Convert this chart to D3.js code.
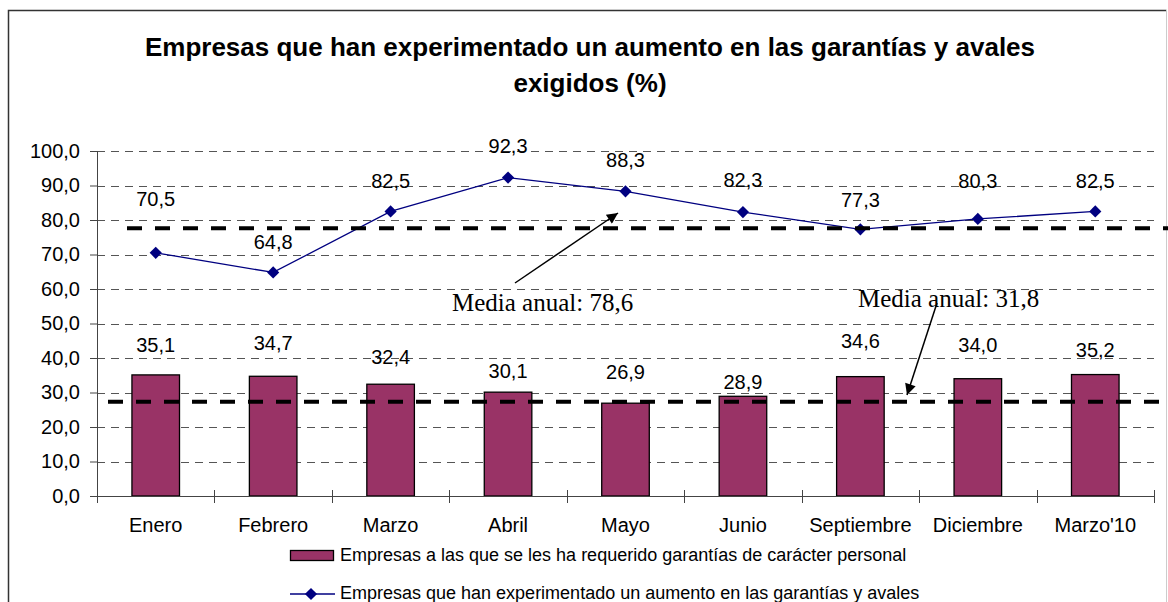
<!DOCTYPE html>
<meta charset="utf-8">
<style>
  body { margin: 0; background: #fff; }
  svg { display: block; font-family: "Liberation Sans", Arial, sans-serif; }
  .grid line { stroke: #555; stroke-dasharray: 8,6; }
  .axis path, .axis line { stroke: #444; }
  .axis text { font-size: 20px; fill: #000; }
  .lbl { font-size: 20px; }
  .note { font-family: "Liberation Serif", "Times New Roman", serif; font-size: 25px; }
  .legend text { font-size: 18px; }
</style>
<body>
<div id="chart"></div>
<script src="https://cdn.jsdelivr.net/npm/d3@7"></script>
<script>
  var months = ["Enero", "Febrero", "Marzo", "Abril", "Mayo", "Junio", "Septiembre", "Diciembre", "Marzo'10"];
  var personal = [35.1, 34.7, 32.4, 30.1, 26.9, 28.9, 34.6, 34.0, 35.2];
  var aumento = [70.5, 64.8, 82.5, 92.3, 88.3, 82.3, 77.3, 80.3, 82.5];
  var yTicks = [0, 10, 20, 30, 40, 50, 60, 70, 80, 90, 100];
  // where the two hand-drawn "media" lines sit on the value axis
  var mediaLevels = [77.6, 27.3];
  var mediaTexts = ["Media anual: 78,6", "Media anual: 31,8"];
  var legendTexts = ["Empresas a las que se les ha requerido garantías de carácter personal",
                     "Empresas que han experimentado un aumento en las garantías y avales"];

  // label nudges (px) as placed in the original
  var lineLabelDy = [-47, -23, -23, -25, -24, -25, -22, -31, -23];
  var barLabelDy = [-23, -26, -20, -14, -24, -7, -29, -27, -18];

  var W = 1168, H = 602,
      pl = 97, pr = 1154, pt = 151, pb = 496;

  var svg = d3.select("#chart").append("svg")
      .attr("width", W).attr("height", H);

  svg.append("rect").attr("width", W).attr("height", H).attr("fill", "#fff");

  // frame
  svg.append("path").attr("d", "M8.5," + H + "V10.5H1166.5")
      .attr("fill", "none").attr("stroke", "#333").attr("stroke-width", 1.5);
  svg.append("line").attr("x1", 1166.5).attr("x2", 1166.5).attr("y1", 10).attr("y2", H)
      .attr("stroke", "#ccc");

  var x = d3.scaleBand().domain(months).range([pl, pr]).padding(0),
      y = d3.scaleLinear().domain([0, 100]).range([pb, pt]);

  var fmt = function(v) { return d3.format(".1f")(v).replace(".", ","); };

  // title
  var title = svg.append("text").attr("text-anchor", "middle")
      .attr("font-size", 26).attr("font-weight", "bold");
  title.append("tspan").attr("x", 590).attr("y", 56)
      .text("Empresas que han experimentado un aumento en las garantías y avales");
  title.append("tspan").attr("x", 590).attr("y", 92).text("exigidos (%)");

  // grid
  svg.append("g").attr("class", "grid")
    .selectAll("line").data(yTicks.filter(function(d) { return d > 0; }))
    .enter().append("line")
      .attr("x1", pl).attr("x2", pr)
      .attr("y1", function(d) { return Math.round(y(d)) + 0.5; })
      .attr("y2", function(d) { return Math.round(y(d)) + 0.5; });

  // bars
  var bw = x.bandwidth() * 0.405;
  svg.append("g").selectAll("rect").data(personal)
    .enter().append("rect")
      .attr("x", function(d, i) { return x(months[i]) + x.bandwidth() / 2 - bw / 2; })
      .attr("y", function(d) { return y(d); })
      .attr("width", bw)
      .attr("height", function(d) { return pb - y(d); })
      .attr("fill", "#993366")
      .attr("stroke", "#000").attr("stroke-width", 1.3);

  // axes
  var yAxis = svg.append("g").attr("class", "axis")
      .attr("transform", "translate(" + pl + ",0)")
      .call(d3.axisLeft(y).tickValues(yTicks).tickFormat(fmt).tickSize(7).tickPadding(10));
  yAxis.select(".domain").attr("d", "M0.5," + pt + "V" + pb);

  var xAxis = svg.append("g").attr("class", "axis")
      .attr("transform", "translate(0," + pb + ")")
      .call(d3.axisBottom(x).tickSize(0).tickPadding(22));
  xAxis.select(".domain").attr("d", "M" + pl + ",0.5H" + pr).attr("stroke", "#777");
  var edges = months.map(function(m) { return x(m); }).concat([pr]);
  xAxis.selectAll(".edge").data(edges).enter().append("line")
      .attr("x1", function(d) { return Math.round(d) + 0.5; })
      .attr("x2", function(d) { return Math.round(d) + 0.5; })
      .attr("y1", -6).attr("y2", 7).attr("stroke", "#333");
  yAxis.append("line").attr("x1", 0).attr("x2", 6).attr("y1", pb + 0.5).attr("y2", pb + 0.5)
      .attr("stroke", "#333");

  // line series
  var cx = function(i) { return x(months[i]) + x.bandwidth() / 2; };
  svg.append("path").datum(aumento)
      .attr("fill", "none").attr("stroke", "#000080").attr("stroke-width", 1.3)
      .attr("d", d3.line().x(function(d, i) { return cx(i); }).y(function(d) { return y(d); }));
  var diamond = d3.symbol().type(d3.symbolDiamond2).size(95);
  svg.append("g").selectAll("path").data(aumento)
    .enter().append("path")
      .attr("d", diamond)
      .attr("transform", function(d, i) { return "translate(" + cx(i) + "," + y(d) + ")"; })
      .attr("fill", "#000080");

  // value labels
  svg.append("g").selectAll("text").data(aumento)
    .enter().append("text").attr("class", "lbl")
      .attr("text-anchor", "middle")
      .attr("x", function(d, i) { return cx(i); })
      .attr("y", function(d, i) { return y(d) + lineLabelDy[i]; })
      .text(fmt);
  svg.append("g").selectAll("text").data(personal)
    .enter().append("text").attr("class", "lbl")
      .attr("text-anchor", "middle")
      .attr("x", function(d, i) { return cx(i); })
      .attr("y", function(d, i) { return y(d) + barLabelDy[i]; })
      .text(fmt);

  // media lines
  var mediaSpan = [[127, 1168], [108, 1162]];
  svg.append("g").selectAll("line").data(mediaLevels)
    .enter().append("line")
      .attr("x1", function(d, i) { return mediaSpan[i][0]; })
      .attr("x2", function(d, i) { return mediaSpan[i][1]; })
      .attr("y1", function(d) { return y(d); })
      .attr("y2", function(d) { return y(d); })
      .attr("stroke", "#000").attr("stroke-width", 4).attr("stroke-dasharray", "15,13");

  // notes with arrows
  svg.append("defs").append("marker")
      .attr("id", "arr").attr("viewBox", "0 0 10 10").attr("refX", 10).attr("refY", 5)
      .attr("markerWidth", 13).attr("markerHeight", 11).attr("markerUnits", "userSpaceOnUse")
      .attr("orient", "auto")
    .append("path").attr("d", "M0,0L10,5L0,10Z").attr("fill", "#000");
  var notePos = [[452, 311], [858, 307]];
  var arrows = [[515, 283, 618, 213], [937, 303, 907, 395]];
  svg.append("g").selectAll("text").data(mediaTexts)
    .enter().append("text").attr("class", "note")
      .attr("x", function(d, i) { return notePos[i][0]; })
      .attr("y", function(d, i) { return notePos[i][1]; })
      .text(function(d) { return d; });
  svg.append("g").selectAll("line").data(arrows)
    .enter().append("line")
      .attr("x1", function(d) { return d[0]; }).attr("y1", function(d) { return d[1]; })
      .attr("x2", function(d) { return d[2]; }).attr("y2", function(d) { return d[3]; })
      .attr("stroke", "#000").attr("stroke-width", 1.5)
      .attr("marker-end", "url(#arr)");

  // legend
  var lg = svg.append("g").attr("class", "legend");
  lg.append("rect").attr("x", 290.5).attr("y", 550.5).attr("width", 43).attr("height", 10)
      .attr("fill", "#993366").attr("stroke", "#000").attr("stroke-width", 1.3);
  lg.append("line").attr("x1", 290).attr("x2", 335).attr("y1", 594).attr("y2", 594)
      .attr("stroke", "#000080").attr("stroke-width", 1.3);
  lg.append("path").attr("d", diamond).attr("transform", "translate(311,594)").attr("fill", "#000080");
  lg.selectAll("text").data(legendTexts).enter().append("text")
      .attr("x", 340)
      .attr("y", function(d, i) { return i ? 599 : 561; })
      .text(function(d) { return d; });
</script>
</body>
